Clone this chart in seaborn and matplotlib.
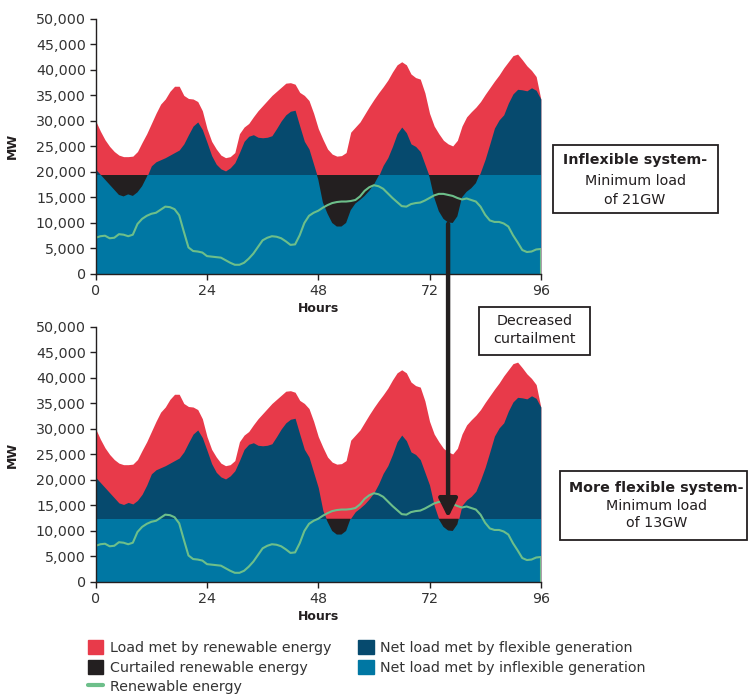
import numpy as np
import matplotlib.pyplot as plt
import seaborn as sns
from matplotlib.patches import Patch, Rectangle
from matplotlib.lines import Line2D
from matplotlib.ticker import StrMethodFormatter

hours = list(range(0, 97))

load = [30000, 28000, 26300, 25000, 24000, 23300, 23000, 23000, 23100, 24000,
        25800, 27500, 29500, 31500, 33300, 34300, 35800, 36800, 36800, 35000,
        34400, 34300, 33800, 32000, 28500, 26000, 24500, 23300, 22800, 23000,
        23800, 27500, 28800, 29500, 30800, 32000, 33000, 34000, 35000, 35800,
        36600, 37400, 37500, 37200, 35600, 35000, 34000, 31500, 28500, 26400,
        24500, 23500, 23100, 23200, 23800, 27800, 28800, 29800, 31300, 32800,
        34200, 35500, 36700, 38000, 39600, 41000, 41600, 41000, 39200, 38500,
        38200, 35500, 31500, 29000, 27500, 26200, 25500, 25100, 26200, 29000,
        30800, 31800, 32700, 33800, 35200, 36500, 37800, 39000, 40400, 41600,
        42800, 43100, 42000, 40800, 39900, 38700, 34300]

net_load = [20500, 19500, 18500, 17500, 16500, 15500, 15200, 15600, 15300, 16000,
            17200, 19000, 21200, 22000, 22400, 22800, 23300, 23800, 24300, 25500,
            27300, 29000, 29800, 28300, 25800, 23200, 21500, 20600, 20200, 20800,
            21800, 23800, 26000, 27000, 27300, 26800, 26700, 26800, 27100, 28500,
            30000, 31200, 31900, 32100, 29000, 26000, 24500, 21500, 18500, 14000,
            11800, 10000, 9300, 9300, 10000, 12500, 13800, 14500, 15300, 16300,
            17500, 19200, 21300, 22800, 25000, 27500, 28800, 27700, 25500, 25000,
            24000, 21500, 19000, 15000, 12300, 10800, 10100, 10000, 11300, 15000,
            16100, 16800, 17800, 20000, 22500, 25500, 28600, 30200, 31200, 33500,
            35300, 36200, 36100, 35900, 36500, 36000, 34300]

renewable = [7100, 7400, 7500, 7000, 7100, 7800, 7700, 7400, 7700, 9800,
             10800, 11400, 11800, 12000, 12600, 13200, 13100, 12700, 11500, 8300,
             5200, 4500, 4400, 4200, 3500, 3400, 3300, 3200, 2700, 2200,
             1800, 1800, 2200, 3000, 4000, 5300, 6600, 7100, 7400, 7300,
             7000, 6400, 5700, 5800, 7600, 10000, 11400, 12000, 12400, 13000,
             13500, 13900, 14100, 14200, 14200, 14300, 14500, 15200, 16300, 17000,
             17400, 17200, 16700, 15800, 14900, 14100, 13300, 13200, 13700, 13900,
             14000, 14400, 14900, 15400, 15700, 15700, 15500, 15300, 14900, 14600,
             14800, 14500, 14200, 13200, 11600, 10500, 10200, 10200, 9900, 9300,
             7600, 6200, 4700, 4300, 4400, 4800, 4900]

min_loads = [19400, 12400]   # inflexible system, more flexible system
x_ticks = [0, 24, 48, 72, 96]
arrow_hour = 76

RED = '#E83A4A'
NAVY = '#064A6E'
TEAL = '#0077A3'
BLACK = '#231F20'
GREEN = '#6DBF8A'
TXT = '#333333'

sns.set_style('ticks')
plt.rcParams['font.family'] = ['DejaVu Sans']

fig = plt.figure(figsize=(7.48, 6.95), dpi=100)
ax_top = fig.add_axes([0.128, 0.6058, 0.595, 0.367])
ax_bot = fig.add_axes([0.128, 0.1626, 0.595, 0.367])

h = np.array(hours)
L = np.array(load)
N = np.array(net_load)

for ax, mn in zip([ax_top, ax_bot], min_loads):
    ax.fill_between(h, 0, L, color=RED, lw=0)
    ax.fill_between(h, 0, N, color=NAVY, lw=0)
    ax.fill_between(h, 0, mn, color=TEAL, lw=0)
    ax.fill_between(h, N, mn, where=N < mn, interpolate=True, color=BLACK, lw=0)
    sns.lineplot(x=hours, y=renewable, ax=ax, color=GREEN, lw=1.5)
    ax.plot([hours[-1], hours[-1]], [renewable[-1], 0], color=GREEN, lw=1.5)

    ax.set_xlim(0, 96)
    ax.set_ylim(0, 50000)
    ax.set_xticks(x_ticks)
    ax.set_yticks(range(0, 50001, 5000))
    ax.yaxis.set_major_formatter(StrMethodFormatter('{x:,.0f}'))
    ax.tick_params(axis='both', labelsize=10.3, colors=BLACK, labelcolor=TXT,
                   length=4, width=1, direction='out', pad=3)
    ax.set_xlabel('Hours', fontsize=9, fontweight='bold', color=BLACK, labelpad=3)
    ax.set_ylabel('MW', fontsize=9, fontweight='bold', color=BLACK, labelpad=12)
    for s in ['top', 'right']:
        ax.spines[s].set_visible(False)
    for s in ['left', 'bottom']:
        ax.spines[s].set_color(BLACK)
        ax.spines[s].set_linewidth(1)

# arrow from the curtailment trough in the top panel to the bottom panel
ax_bot.annotate('', xy=(arrow_hour, 12600), xycoords='data',
                xytext=(arrow_hour, 9800), textcoords=ax_top.transData,
                arrowprops=dict(arrowstyle='-|>', lw=3.2, color=BLACK,
                                mutation_scale=28, shrinkA=0, shrinkB=0),
                annotation_clip=False)


def text_box(x0, y0, w, hgt, lines, cx, ys):
    fig.patches.append(Rectangle((x0, y0), w, hgt, transform=fig.transFigure,
                                 fc='white', ec=BLACK, lw=1.3, zorder=5))
    for (txt, bold), y in zip(lines, ys):
        fig.text(cx, y, txt, ha='center', va='center', fontsize=10.3,
                 fontweight='bold' if bold else 'normal', color=BLACK, zorder=6)


text_box(0.739, 0.6935, 0.2206, 0.0978,
         [('Inflexible system-', True), ('Minimum load', False), ('of 21GW', False)],
         0.849, [0.7698, 0.7396, 0.7122])
text_box(0.6404, 0.4892, 0.1484, 0.069,
         [('Decreased', False), ('curtailment', False)],
         0.7146, [0.5381, 0.5122])
text_box(0.7487, 0.223, 0.2506, 0.0993,
         [('More flexible system-', True), ('Minimum load', False), ('of 13GW', False)],
         0.878, [0.2978, 0.2719, 0.2475])

handles = [Patch(color=RED, label='Load met by renewable energy'),
           Patch(color=BLACK, label='Curtailed renewable energy'),
           Line2D([0], [0], color=GREEN, lw=3, label='Renewable energy'),
           Patch(color=NAVY, label='Net load met by flexible generation'),
           Patch(color=TEAL, label='Net load met by inflexible generation')]
leg = fig.legend(handles=handles, loc='upper left', bbox_to_anchor=(0.117, 0.079),
                 ncol=2, frameon=False, fontsize=10.3, handlelength=1.1,
                 handleheight=1.15, handletextpad=0.45, columnspacing=1.9,
                 labelspacing=0.32, borderaxespad=0, borderpad=0)
for t in leg.get_texts():
    t.set_color(TXT)

fig.savefig('out.png', dpi=100)
